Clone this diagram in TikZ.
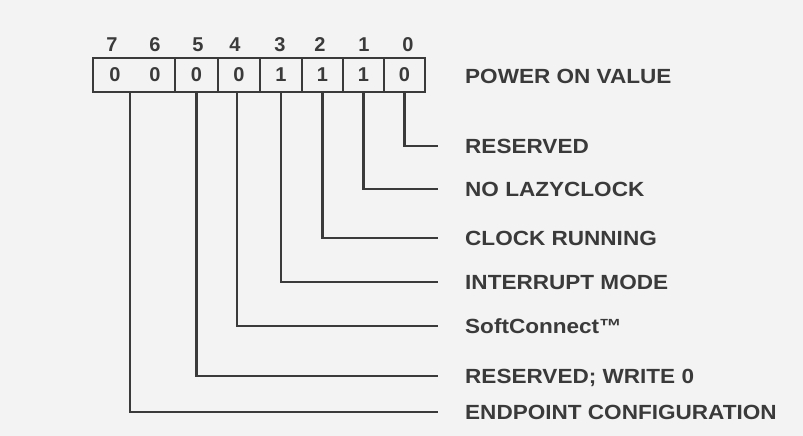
\documentclass[tikz,border=0pt]{standalone}
\usepackage{fontspec}
\usepackage{graphicx}
\setmainfont{Liberation Sans}
\definecolor{ink}{RGB}{58,58,58}
\definecolor{paper}{RGB}{243,243,243}
\newcommand{\widetext}[1]{\scalebox{1.1}[1]{#1}}
\tikzset{
  cellbox/.style={draw=ink, line width=2.4pt, minimum height=34pt, inner sep=0pt, text=ink,
                  font=\fontsize{20}{20}\selectfont\bfseries},
  digit/.style={inner sep=0pt, text=ink, font=\fontsize{20}{20}\selectfont\bfseries},
  lbl/.style={anchor=west, inner sep=0pt, text=ink, text height=14.7pt, text depth=0pt,
              font=\fontsize{20.5}{20.5}\selectfont\bfseries},
  wire/.style={draw=ink, line width=2.1pt}
}
\begin{document}
\begin{tikzpicture}[x=1pt,y=-1pt]
\fill[paper] (0,0) rectangle (803,436);
\useasboundingbox (0,0) rectangle (803,436);
% register cells
\node[cellbox, minimum width=82pt] (c76) at (134,75) {};
\node[cellbox, minimum width=43pt] (c5) at (196.5,75) {0};
\node[cellbox, minimum width=42pt] (c4) at (239,75) {0};
\node[cellbox, minimum width=42pt] (c3) at (281,75) {1};
\node[cellbox, minimum width=41pt] (c2) at (322.5,75) {1};
\node[cellbox, minimum width=41pt] (c1) at (363.5,75) {1};
\node[cellbox, minimum width=41pt] (c0) at (404.5,75) {0};
\node[digit] (v7) at (115,75) {0};
\node[digit] (v6) at (155,75) {0};
% bit numbers
\node[digit] (b7) at (112,45) {7};
\node[digit] (b6) at (155,45) {6};
\node[digit] (b5) at (198,45) {5};
\node[digit] (b4) at (235,45) {4};
\node[digit] (b3) at (280,45) {3};
\node[digit] (b2) at (320,45) {2};
\node[digit] (b1) at (364,45) {1};
\node[digit] (b0) at (408,45) {0};
% labels
\node[lbl] (pv) at (465,76) {\widetext{POWER ON VALUE}};
\node[lbl] (l0) at (465,146) {\widetext{RESERVED}};
\node[lbl] (l1) at (465,189) {\widetext{NO LAZYCLOCK}};
\node[lbl] (l2) at (465,238) {\widetext{CLOCK RUNNING}};
\node[lbl] (l3) at (465,282) {\widetext{INTERRUPT MODE}};
\node[lbl] (l4) at (465,326) {\widetext{SoftConnect™}};
\node[lbl] (l5) at (465,376) {\widetext{RESERVED; WRITE 0}};
\node[lbl] (l7) at (465,412) {\widetext{ENDPOINT CONFIGURATION}};
% connectors
\draw[wire] (c0.south) |- ([xshift=-27pt]l0.west);
\draw[wire] (c1.south) |- ([xshift=-27pt]l1.west);
\draw[wire] (c2.south) |- ([xshift=-27pt]l2.west);
\draw[wire] (c3.south) |- ([xshift=-27pt]l3.west);
\draw[wire] ([xshift=-2pt]c4.south) |- ([xshift=-27pt]l4.west);
\draw[wire] (c5.south) |- ([xshift=-27pt]l5.west);
\draw[wire] ([xshift=-4pt]c76.south) |- ([xshift=-27pt]l7.west);
\end{tikzpicture}
\end{document}
